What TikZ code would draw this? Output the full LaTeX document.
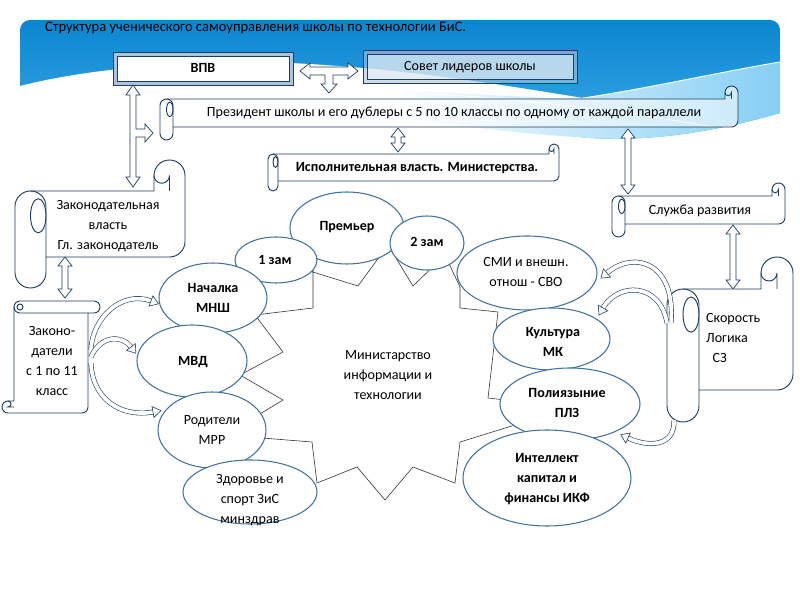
\documentclass[tikz,border=0pt]{standalone}
\usepackage{fontspec}
\setmainfont{Carlito}
\usetikzlibrary{shapes.geometric}
\definecolor{navy}{HTML}{1F3D5C}
\definecolor{ellc}{HTML}{41719C}
\definecolor{bannerTop}{HTML}{0A84D0}
\definecolor{bannerBot}{HTML}{3AABE8}
\definecolor{lband}{HTML}{86CFF5}
\definecolor{frameC}{HTML}{A9C4DC}
\definecolor{starC}{HTML}{333333}
\tikzset{
  scr/.style={draw=navy, line width=0.8pt, fill=white, line join=round},
  scrd/.style={draw=navy, line width=0.8pt},
  blk/.style={draw=navy, line width=0.6pt, fill=white},
  ell/.style={ellipse, draw=ellc, line width=0.9pt, fill=white, inner sep=0pt},
  lbl/.style={font=\fontsize{12}{17}\selectfont, align=center, inner sep=0pt, text=black},
  blbl/.style={lbl, font=\fontsize{12}{17}\selectfont\bfseries},
  carr/.style={draw=navy, line width=0.5pt, double=white, double distance=3.2pt},
  ahs/.style={draw=navy, line width=0.5pt, fill=white, line join=miter},
  starS/.style={draw=starC, line width=0.5pt, fill=white, line join=miter},
  boxo/.style={draw=navy, line width=0.8pt, fill=frameC},
  boxi/.style={draw=navy, line width=0.6pt, fill=white},
}
% horizontal scroll: [opts]{L}{T}{R}{B}{c}
\newcommand{\hscrl}[6][]{%
  \pgfmathsetmacro{\scrH}{#6/2}%
  \pgfmathsetmacro{\scrQ}{#6/4}%
  \draw[scr,#1] (#2,#3+#6+\scrH) arc[start angle=180,end angle=270,radius=\scrH]
     -- (#4-#6,#3+#6) -- (#4-#6,#3+\scrH)
     arc[start angle=180,end angle=360,radius=\scrH]
     -- (#4,#5-#6-\scrH) arc[start angle=0,end angle=90,radius=\scrH]
     -- (#2+#6,#5-#6) -- (#2+#6,#5-\scrH)
     arc[start angle=0,end angle=180,radius=\scrH] -- cycle;
  \draw[scrd] (#2+\scrH,#3+#6) arc[start angle=270,end angle=360,radius=\scrH] -- (#2+#6,#5-#6);
  \draw[scrd] (#2+0.75*#6,#3+1.25*#6+0.55*#6) ellipse[x radius=\scrQ, y radius=0.55*#6];
  \draw[scrd] (#4-\scrH,#3+#6) -- (#4-\scrH,#3+\scrH) arc[start angle=0,end angle=180,radius=\scrQ];
}
% vertical scroll: [opts]{L}{T}{R}{B}{c}
\newcommand{\vscrl}[6][]{%
  \pgfmathsetmacro{\scrH}{#6/2}%
  \pgfmathsetmacro{\scrQ}{#6/4}%
  \draw[scr,#1] (#2+#6,#3+\scrH) arc[start angle=180,end angle=270,radius=\scrH]
    -- (#4-\scrH,#3) arc[start angle=270,end angle=450,radius=\scrH]
    -- (#4-#6,#3+#6) -- (#4-#6,#5-\scrH) arc[start angle=0,end angle=90,radius=\scrH]
    -- (#2+\scrH,#5) arc[start angle=90,end angle=270,radius=\scrH]
    -- (#2+#6,#5-#6) -- cycle;
  \draw[scrd] (#2+#6,#3+\scrH) arc[start angle=180,end angle=90,radius=\scrH] -- (#4-#6,#3+#6);
  \draw[scrd] (#2+#6+\scrH,#3+\scrH) circle[radius=\scrQ];
  \draw[scrd] (#2+\scrH,#5-#6) arc[start angle=270,end angle=450,radius=\scrQ] -- (#2+#6,#5-\scrH);
}
% vertical double block arrow {x}{ytop}{ybottom}
\newcommand{\vdarr}[3]{\draw[blk] (#1,#2) -- (#1+7,#2+9) -- (#1+3,#2+9) -- (#1+3,#3-9) -- (#1+7,#3-9) -- (#1,#3) -- (#1-7,#3-9) -- (#1-3,#3-9) -- (#1-3,#2+9) -- (#1-7,#2+9) -- cycle;}
% hollow arrow head {endx}{endy}{dirx}{diry}
\newcommand{\ahd}[4]{%
  \pgfmathsetmacro{\adn}{veclen(#3,#4)}%
  \pgfmathsetmacro{\aux}{#3/\adn}%
  \pgfmathsetmacro{\auy}{#4/\adn}%
  \draw[ahs] (#1-5.5*\auy,#2+5.5*\aux) -- (#1+8*\aux,#2+8*\auy) -- (#1+5.5*\auy,#2-5.5*\aux) -- cycle;}
\begin{document}
\begin{tikzpicture}[x=0.03cm,y=-0.03cm]
\useasboundingbox (0,0) rectangle (800,600);
\fill[white] (0,0) rectangle (800,600);
% banner
\begin{scope}
\clip (20,120) -- (20,30) arc[start angle=180,end angle=270,radius=10] -- (770,20) arc[start angle=270,end angle=360,radius=10] -- (780,113) .. controls (700,136) and (640,141) .. (590,138) .. controls (520,134) and (450,125) .. (380,115) .. controls (250,100) and (120,100) .. (20,105) -- cycle;
\shade[top color=bannerTop, bottom color=bannerBot] (20,15) rectangle (780,145);
\end{scope}
\fill[white] (20,86) .. controls (90,68) and (190,60) .. (290,63) .. controls (400,68) and (510,86) .. (583,98) -- (583,150) -- (20,150) -- cycle;
\begin{scope}
\clip (390,90) .. controls (470,93) and (540,99) .. (583,98) .. controls (650,88) and (720,72) .. (780,62) -- (780,113) .. controls (700,136) and (640,141) .. (590,138) .. controls (520,134) and (450,125) .. (390,116) -- cycle;
\shade[left color=white, right color=lband] (390,55) rectangle (780,145);
\end{scope}
\draw[white, line width=0.8pt] (583,98) .. controls (650,88) and (720,72) .. (780,62);
\draw[white, line width=0.6pt] (420,93) .. controls (540,100) and (640,114) .. (713,127);
% title
\node[lbl, anchor=west, font=\fontsize{12.4}{17}\selectfont] (title) at (45,28) {Структура ученического самоуправления школы по технологии БиС.};
% top boxes
\draw[boxo] (113,52) rectangle (293,85);
\draw[boxi] (117,56) rectangle (289,81);
\node[blbl] (vpv) at (203,68) {ВПВ};
\draw[boxo, fill opacity=0.6] (363,50) rectangle (577,83);
\draw[boxi, fill opacity=0.5] (367,54) rectangle (573,79);
\node[lbl] (sovet) at (470,67) {Совет лидеров школы};
% T arrow
\draw[blk] (300,71) -- (310,63) -- (310,67) -- (348,67) -- (348,63) -- (358,71) -- (348,79) -- (348,75) -- (333,75) -- (333,84) -- (337,84) -- (329,93) -- (321,84) -- (325,84) -- (325,75) -- (310,75) -- (310,79) -- cycle;
% left arrow with branch
\draw[blk] (133,85) -- (140,95) -- (136,95) -- (136,129) -- (145,129) -- (145,124) -- (153,133) -- (145,142) -- (145,137) -- (136,137) -- (136,177) -- (140,177) -- (133,187) -- (126,177) -- (130,177) -- (130,95) -- (126,95) -- cycle;
% president scroll
\hscrl[fill opacity=0.55]{160}{86}{738}{140}{13}
\node[lbl] (pres) at (454,113) {Президент школы и его дублеры с 5 по 10 классы по одному от каждой параллели};
% arrows
\vdarr{398}{128}{152}
\vdarr{628}{129}{194}
\vdarr{733}{225}{289}
\vdarr{65}{257}{298}
% executive scroll
\hscrl{268}{144}{559}{191}{10}
\node[blbl] (isp) at (417,168) {Исполнительная власть. Министерства.};
% legislative scroll
\hscrl{15}{160}{185}{288}{31}
\node[lbl] (zak) at (108,226) {Законодательная\\власть\\Гл. законодатель};
% legislators vertical scroll
\vscrl{2}{301}{100}{413}{12}
\node[lbl] (zakd) at (52,361) {Законо-\\датели\\с 1 по 11\\класс};
% service scroll
\hscrl{612}{183}{785}{237}{13}
\node[lbl] (sluzh) at (700,211) {Служба развития};
% skorost scroll
\hscrl{667}{257}{793}{422}{32}
\node[lbl, anchor=west, align=left] (skor) at (706,338) {Скорость\\Логика\\\ \ СЗ};
% star
\draw[starS] (300,268) -- (358,286) -- (388,245) -- (413,286) -- (445,255) -- (460,287) -- (460,308) -- (498,312) -- (488,398) -- (505,400) -- (515,425) -- (460,442) -- (455,483) -- (413,467) -- (385,500) -- (357,467) -- (317,483) -- (312,442) -- (262,438) -- (250,420) -- (283,400) -- (240,375) -- (283,352) -- (255,315) -- (313,308) -- (313,262) -- cycle;
\node[lbl] (mit) at (388,375) {Министарство\\информации и\\технологии};
% ellipses
\node[ell, minimum width=3.42cm, minimum height=2.16cm] (premier) at (347,228) {};
\node[ell, minimum width=2.22cm, minimum height=1.62cm] (zam2) at (427,243) {};
\node[ell, minimum width=2.46cm, minimum height=1.38cm] (zam1) at (276,260) {};
\node[ell, minimum width=3.24cm, minimum height=2.10cm] (nach) at (213,298) {};
\node[ell, minimum width=3.30cm, minimum height=2.16cm] (mvd) at (192,361) {};
\node[ell, minimum width=3.24cm, minimum height=2.28cm] (rod) at (212,430) {};
\node[ell, minimum width=4.02cm, minimum height=1.92cm] (zdor) at (250,492) {};
\node[ell, minimum width=4.20cm, minimum height=2.22cm] (smi) at (527,273) {};
\node[ell, minimum width=3.51cm, minimum height=1.86cm] (kult) at (551.5,339) {};
\node[ell, minimum width=4.20cm, minimum height=2.16cm] (poly) at (570,404) {};
\node[ell, minimum width=5.04cm, minimum height=2.88cm] (intel) at (547,478) {};
\node[blbl] (premierT) at (347,227) {Премьер};
\node[blbl] (zam2T) at (427,242) {2 зам};
\node[blbl] (zam1T) at (275,260) {1 зам};
\node[blbl] (nachT) at (213,298) {Началка\\МНШ};
\node[blbl] (mvdT) at (193,362) {МВД};
\node[lbl] (rodT) at (212,430) {Родители\\МРР};
\node[lbl] (zdorT) at (250,500) {Здоровье и\\спорт ЗиС\\минздрав};
\node[lbl] (smiT) at (526,272) {СМИ и внешн.\\отнош - СВО};
\node[blbl] (kultT) at (553,342) {Культура\\МК};
\node[blbl] (polyT) at (567,403) {Полиязыние\\ПЛЗ};
\node[blbl] (intelT) at (547,479) {Интеллект\\капитал и\\финансы ИКФ};
% curved arrows
\coordinate (l1s) at (91,350); \coordinate (l1e) at (151,301);
\coordinate (l2s) at (91,357); \coordinate (l2e) at (131,347);
\coordinate (l3s) at (91,363); \coordinate (l3e) at (153,412);
\coordinate (r1s) at (671,323); \coordinate (r1e) at (607,273);
\coordinate (r2s) at (667,323); \coordinate (r2e) at (603,308);
\coordinate (r3s) at (674,420); \coordinate (r3e) at (628,438);
\draw[carr] (l1s) .. controls (92,318) and (122,290) .. (l1e);
\ahd{151}{301}{29}{11}
\draw[carr] (l2s) .. controls (100,336) and (121,334) .. (l2e);
\ahd{131}{347}{10}{13}
\draw[carr] (l3s) .. controls (92,398) and (120,418) .. (l3e);
\ahd{153}{412}{33}{-6}
\draw[carr] (r1s) .. controls (676,262) and (634,250) .. (r1e);
\ahd{607}{273}{-27}{23}
\draw[carr] (r2s) .. controls (660,282) and (618,282) .. (r2e);
\ahd{603}{308}{-15}{26}
\draw[carr] (r3s) .. controls (675,446) and (650,448) .. (r3e);
\ahd{628}{438}{-22}{-10}
\end{tikzpicture}
\end{document}
